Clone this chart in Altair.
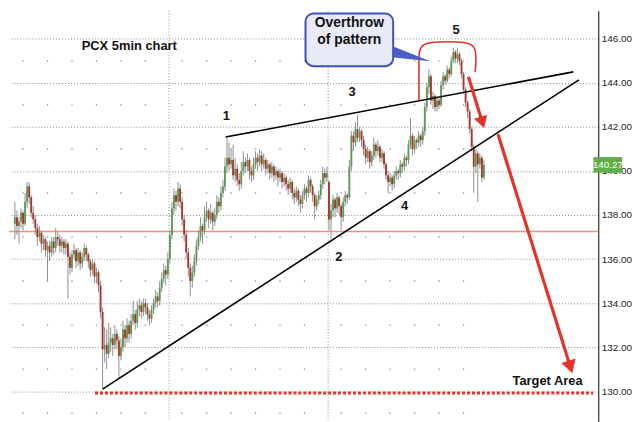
import altair as alt
import pandas as pd

# ---------------- candle data (5-minute bars) ----------------
opens = [
    137.6, 137.9, 137.5, 137.7, 138.1, 137.6, 138.6, 139.3, 138.8, 138.1,
    137.8, 137.4, 137.0, 137.2, 136.7, 136.9, 136.4, 136.6, 136.3, 136.8,
    136.5, 137.0, 136.9, 136.6, 136.8, 136.5, 136.7, 136.1, 135.6, 136.2,
    136.4, 135.9, 136.3, 135.8, 136.1, 136.5, 136.2, 135.9, 135.5, 135.8,
    135.2, 135.4, 134.8, 133.6, 131.9, 132.1, 131.7, 132.2, 132.4, 132.1,
    132.6, 132.3, 131.6, 132.0, 132.8, 132.4, 133.0, 132.6, 133.2, 133.5,
    133.1, 133.7, 133.9, 133.6, 134.0, 133.8, 133.5, 133.3, 133.7, 134.0,
    134.3, 134.1, 134.7, 135.1, 135.5, 135.3, 136.0, 137.1, 138.3, 138.9,
    138.6, 139.2, 138.6, 137.8, 137.1, 136.3, 135.6, 135.0, 135.4, 135.9,
    136.6, 137.0, 137.5, 137.3, 137.9, 138.2, 137.8, 138.1, 137.7, 138.0,
    138.6, 138.4, 139.0, 139.3, 140.2, 140.6, 140.3, 140.5, 139.8, 140.1,
    139.6, 139.4, 140.0, 140.4, 140.2, 140.5, 140.0, 139.8, 140.3, 140.6,
    140.4, 140.7, 140.3, 140.5, 140.1, 140.3, 139.9, 140.2, 139.8, 140.0,
    139.7, 139.9, 139.5, 139.7, 139.4, 139.2, 139.5, 139.0, 138.8, 139.1,
    138.7, 138.5, 138.9, 139.2, 139.0, 139.6, 139.3, 138.9, 138.4, 138.7,
    138.9, 139.4, 139.9, 139.7, 139.5, 137.8, 138.2, 138.7, 138.3, 138.8,
    138.4, 137.9, 138.6, 138.9, 138.8, 140.2, 141.6, 141.3, 141.9, 141.5,
    141.8, 141.4, 141.0, 140.6, 140.9, 140.4, 140.7, 141.2, 140.9, 141.1,
    140.6, 140.8, 140.3, 139.8, 139.5, 139.7, 139.4, 139.8, 140.0, 139.9,
    140.3, 140.2, 140.6, 140.5, 141.2, 141.6, 141.0, 141.4, 141.3, 141.6,
    141.4, 141.8, 142.9, 143.8, 144.3, 143.2, 143.4, 142.9, 143.2, 143.0,
    143.9, 144.3, 144.1, 144.6, 144.4, 145.0, 145.4, 145.1, 145.3, 145.0,
    144.4, 143.7, 143.1, 142.7, 141.9, 141.1, 140.2, 140.8, 140.3, 140.6,
    139.7,
]
highs = [
    138.6, 138.2, 137.9, 138.3, 138.2, 139.0, 139.5, 139.5, 138.9, 138.4,
    138.0, 137.6, 137.5, 137.3, 137.1, 137.0, 136.8, 136.8, 137.0, 137.0,
    137.4, 137.2, 137.1, 137.0, 136.9, 136.9, 136.8, 136.3, 136.4, 136.7,
    136.5, 136.5, 136.4, 136.3, 136.7, 136.6, 136.3, 136.0, 136.0, 135.9,
    135.6, 135.5, 135.0, 133.8, 132.9, 132.8, 133.1, 132.9, 132.6, 133.0,
    132.8, 132.5, 132.4, 133.2, 133.0, 133.3, 133.2, 133.5, 134.1, 133.7,
    134.1, 134.2, 134.1, 134.2, 134.2, 134.0, 133.7, 133.9, 134.2, 134.6,
    134.5, 135.0, 135.4, 135.8, 135.7, 136.3, 137.3, 138.6, 139.2, 139.1,
    139.5, 139.4, 138.8, 138.0, 137.3, 136.5, 135.8, 135.7, 136.2, 136.9,
    137.3, 137.9, 137.6, 138.4, 138.6, 138.3, 138.5, 138.2, 138.3, 138.9,
    138.8, 139.3, 139.6, 140.6, 141.5, 141.3, 141.0, 141.2, 140.6, 140.3,
    139.9, 140.4, 140.9, 140.6, 140.8, 140.6, 140.2, 140.6, 140.9, 140.8,
    141.0, 140.9, 140.8, 140.6, 140.5, 140.4, 140.4, 140.3, 140.2, 140.1,
    140.1, 140.0, 139.9, 139.8, 139.6, 139.7, 139.6, 139.2, 139.3, 139.2,
    138.9, 139.1, 139.4, 139.3, 139.8, 139.7, 139.4, 139.0, 138.9, 139.1,
    139.6, 140.2, 140.1, 140.2, 139.6, 138.5, 138.9, 138.8, 139.0, 138.9,
    138.5, 138.8, 139.1, 139.0, 140.5, 141.8, 141.8, 142.2, 142.55, 142.0,
    141.9, 141.6, 141.2, 141.1, 141.0, 140.9, 141.5, 141.3, 141.4, 141.2,
    141.0, 140.9, 140.4, 140.0, 139.9, 139.8, 140.0, 140.2, 140.1, 140.5,
    140.4, 140.8, 140.7, 141.4, 142.4, 141.7, 141.6, 141.5, 141.8, 141.7,
    142.0, 143.1, 144.0, 144.6, 144.4, 143.6, 143.5, 143.4, 143.3, 144.1,
    144.5, 144.4, 144.8, 144.7, 145.2, 145.6, 145.5, 145.6, 145.4, 145.1,
    144.5, 143.8, 143.2, 142.8, 142.0, 141.2, 141.0, 140.9, 140.8, 140.7,
    140.5,
]
lows = [
    136.9, 137.1, 136.7, 137.4, 137.3, 137.5, 138.3, 138.5, 137.9, 137.6,
    137.1, 136.6, 136.8, 136.3, 136.4, 136.1, 135.0, 135.9, 136.1, 136.2,
    136.3, 136.6, 136.3, 136.3, 136.2, 136.2, 134.2, 135.3, 135.4, 136.0,
    135.6, 135.7, 135.5, 135.6, 135.9, 135.9, 135.6, 135.2, 135.3, 134.9,
    134.9, 134.5, 133.3, 130.1, 131.3, 131.0, 131.5, 131.8, 131.6, 131.9,
    131.9, 130.6, 131.4, 131.8, 132.0, 132.2, 132.2, 132.4, 133.0, 132.8,
    132.9, 133.4, 133.3, 133.4, 133.5, 133.2, 133.0, 133.1, 133.5, 133.8,
    133.8, 133.9, 134.5, 134.9, 134.8, 135.1, 135.8, 136.9, 138.0, 138.2,
    138.4, 138.3, 137.5, 136.8, 136.0, 135.2, 134.3, 134.7, 135.2, 135.7,
    136.4, 136.8, 136.7, 137.1, 137.7, 137.4, 137.6, 137.3, 137.5, 137.8,
    138.1, 138.2, 138.8, 139.1, 139.9, 140.0, 140.1, 139.6, 139.5, 139.3,
    139.1, 139.2, 139.8, 139.9, 140.0, 139.6, 139.5, 139.6, 140.1, 140.0,
    140.2, 140.0, 140.1, 139.8, 139.9, 139.6, 139.7, 139.5, 139.6, 139.3,
    139.5, 139.2, 139.3, 139.1, 138.9, 139.0, 138.7, 138.5, 138.6, 138.4,
    138.1, 138.3, 138.7, 138.6, 138.8, 139.0, 138.6, 137.8, 138.2, 138.5,
    138.7, 139.2, 139.4, 139.5, 137.3, 136.9, 137.9, 137.9, 138.1, 138.0,
    137.3, 137.7, 138.4, 138.5, 138.7, 140.0, 140.9, 141.1, 141.3, 141.3,
    141.1, 140.7, 140.3, 140.4, 140.1, 140.2, 140.5, 140.6, 140.7, 140.4,
    140.4, 140.1, 139.6, 139.0, 139.3, 139.1, 139.2, 139.6, 139.6, 139.7,
    139.9, 140.0, 140.2, 140.3, 141.0, 140.7, 140.8, 141.0, 141.1, 141.1,
    141.2, 141.6, 142.7, 143.5, 143.0, 142.8, 142.7, 142.7, 142.8, 142.9,
    143.7, 143.9, 144.0, 144.2, 144.3, 144.9, 144.9, 144.9, 144.8, 144.2,
    143.5, 142.9, 142.4, 141.7, 140.9, 139.0, 139.9, 138.6, 140.1, 139.5,
    139.6,
]
closes = [
    137.9, 137.5, 137.7, 138.1, 137.6, 138.6, 139.3, 138.8, 138.1, 137.8,
    137.4, 137.0, 137.2, 136.7, 136.9, 136.4, 136.6, 136.3, 136.8, 136.5,
    137.0, 136.9, 136.6, 136.8, 136.5, 136.7, 136.1, 135.6, 136.2, 136.4,
    135.9, 136.3, 135.8, 136.1, 136.5, 136.2, 135.9, 135.5, 135.8, 135.2,
    135.4, 134.8, 133.6, 131.9, 132.1, 131.7, 132.2, 132.4, 132.1, 132.6,
    132.3, 131.6, 132.0, 132.8, 132.4, 133.0, 132.6, 133.2, 133.5, 133.1,
    133.7, 133.9, 133.6, 134.0, 133.8, 133.5, 133.3, 133.7, 134.0, 134.3,
    134.1, 134.7, 135.1, 135.5, 135.3, 136.0, 137.1, 138.3, 138.9, 138.6,
    139.2, 138.6, 137.8, 137.1, 136.3, 135.6, 135.0, 135.4, 135.9, 136.6,
    137.0, 137.5, 137.3, 137.9, 138.2, 137.8, 138.1, 137.7, 138.0, 138.6,
    138.4, 139.0, 139.3, 140.2, 140.6, 140.3, 140.5, 139.8, 140.1, 139.6,
    139.4, 140.0, 140.4, 140.2, 140.5, 140.0, 139.8, 140.3, 140.6, 140.4,
    140.7, 140.3, 140.5, 140.1, 140.3, 139.9, 140.2, 139.8, 140.0, 139.7,
    139.9, 139.5, 139.7, 139.4, 139.2, 139.5, 139.0, 138.8, 139.1, 138.7,
    138.5, 138.9, 139.2, 139.0, 139.6, 139.3, 138.9, 138.4, 138.7, 138.9,
    139.4, 139.9, 139.7, 139.9, 137.8, 138.2, 138.7, 138.3, 138.8, 138.4,
    137.9, 138.6, 138.9, 138.8, 140.2, 141.6, 141.3, 141.9, 141.5, 141.8,
    141.4, 141.0, 140.6, 140.9, 140.4, 140.7, 141.2, 140.9, 141.1, 140.6,
    140.8, 140.3, 139.8, 139.5, 139.7, 139.4, 139.8, 140.0, 139.9, 140.3,
    140.2, 140.6, 140.5, 141.2, 141.6, 141.0, 141.4, 141.3, 141.6, 141.4,
    141.8, 142.9, 143.8, 144.3, 143.2, 143.4, 142.9, 143.2, 143.0, 143.9,
    144.3, 144.1, 144.6, 144.4, 145.0, 145.4, 145.1, 145.3, 145.0, 144.4,
    143.7, 143.1, 142.7, 141.9, 141.1, 140.2, 140.8, 140.3, 140.6, 139.7,
    140.27,
]
assert len(opens) == len(highs) == len(lows) == len(closes)
bars = list(range(len(closes)))

# ---------------- axis / grid values ----------------
price_ticks = [130, 132, 134, 136, 138, 140, 142, 144, 146]
day_breaks = [75.6, 153.6]
hour_marks = [4, 16, 28, 40, 52, 64, 82, 94, 106, 118, 130, 142,
              160, 172, 184, 196, 208, 220]
odd_prices = [129, 131, 133, 135, 137, 139, 141, 143, 145]
support_level = 137.25
target_level = 129.92
target_from = 39.3
last_price = 140.27

# ---------------- annotations (in bar / price units) ----------------
upper_trend_bar = [103.3, 273.8]
upper_trend_price = [141.54, 144.50]
lower_trend_bar = [43.0, 276.6]
lower_trend_price = [130.09, 144.14]

loop_bar = [198.13, 198.13, 198.13, 198.13, 212.15, 226.17, 226.17, 225.7]
loop_price = [143.22, 144.10, 145.00, 145.87, 145.87, 145.87, 145.00, 144.50]

short_arrow_bar = [222.4, 229.2]
short_arrow_price = [144.28, 142.21]
long_arrow_bar = [236.9, 272.4]
long_arrow_price = [141.67, 131.10]

callout_bar = [142.5, 185.5]
callout_price = [144.76, 147.15]
pointer_bar = [184.6, 203.7]
pointer_top = [145.69, 144.98]
pointer_bottom = [145.16, 144.98]
callout_lines = ["Overthrow", "of pattern"]
callout_line_price = [146.71, 145.96]
callout_center_bar = 164.0

label_texts = ["PCX 5min chart", "1", "2", "3", "4", "5", "Target Area"]
label_bar = [56.1, 103.7, 158.9, 165.4, 191.1, 216.4, 261.2]
label_price = [145.69, 142.51, 136.10, 143.57, 138.40, 146.40, 130.44]

last_box_bar = [283.7, 297.8]
last_box_price = [139.92, 140.63]

# ---------------- scales ----------------
xs = alt.Scale(domain=[-0.467, 283.64], nice=False, zero=False)
ys = alt.Scale(domain=[128.63, 147.28], nice=False, zero=False)
yaxis = alt.Axis(orient="right", values=price_ticks, format=".2f", grid=True,
                 gridDash=[1, 2], gridColor="#8a8a8a", gridOpacity=1, gridWidth=1,
                 domain=True, domainColor="#000000", domainWidth=1, ticks=False,
                 labelPadding=3, labelFont="Liberation Sans", labelFontSize=10,
                 labelColor="#222222", title=None)


def X(f):
    return alt.X(f, type="quantitative", scale=xs, axis=None)


def Y(f):
    return alt.Y(f, type="quantitative", scale=ys, axis=yaxis)


RED = "#e4332b"

candles = pd.DataFrame({"bar": bars, "open": opens, "high": highs,
                        "low": lows, "close": closes})
candles["move"] = ["up" if c >= o else "down" for o, c in zip(opens, closes)]

days = alt.Chart(pd.DataFrame({"bar": day_breaks})).mark_rule(
    color="#8a8a8a", strokeDash=[1, 2], strokeWidth=1).encode(x=X("bar"))

dots_df = pd.DataFrame([(h, p) for h in hour_marks for p in odd_prices],
                       columns=["bar", "price"])
dots = alt.Chart(dots_df).mark_square(size=2, color="#9a9a9a", opacity=1).encode(
    x=X("bar"), y=Y("price"))

support = alt.Chart(pd.DataFrame({"price": [support_level]})).mark_rule(
    color="#f2907c", strokeWidth=1.5).encode(y=Y("price"))

wicks = alt.Chart(candles).mark_rule(color="#8e8e8e", strokeWidth=1).encode(
    x=X("bar"), y=Y("low"), y2=alt.Y2("high"))

bodies = alt.Chart(candles).mark_bar(size=1.9).encode(
    x=X("bar"), y=Y("open"), y2=alt.Y2("close"),
    color=alt.Color("move:N", scale=alt.Scale(domain=["up", "down"],
                                              range=["#5f9a55", "#a6372d"]),
                    legend=None))

trend_df = pd.DataFrame({
    "bar": upper_trend_bar + lower_trend_bar,
    "price": upper_trend_price + lower_trend_price,
    "line": ["upper", "upper", "lower", "lower"],
})
trends = alt.Chart(trend_df).mark_line(color="#000000", strokeWidth=1.6).encode(
    x=X("bar"), y=Y("price"), detail="line:N")

target_df = pd.DataFrame({"bar": [target_from], "bar2": [xs.domain[1]],
                          "price": [target_level]})
target = alt.Chart(target_df).mark_rule(color=RED, strokeWidth=3,
                                        strokeDash=[3, 2]).encode(
    x=X("bar"), x2=alt.X2("bar2"), y=Y("price"))

loop_df = pd.DataFrame({"bar": loop_bar, "price": loop_price,
                        "k": list(range(len(loop_bar)))})
loop = alt.Chart(loop_df).mark_line(color=RED, strokeWidth=1.6,
                                    interpolate="basis").encode(
    x=X("bar"), y=Y("price"), order="k:Q")

arrows_df = pd.DataFrame({
    "bar": short_arrow_bar + long_arrow_bar,
    "price": short_arrow_price + long_arrow_price,
    "a": ["s", "s", "l", "l"],
})
arrows = alt.Chart(arrows_df).mark_line(color=RED, strokeWidth=3.2).encode(
    x=X("bar"), y=Y("price"), detail="a:N")

head_short = alt.Chart(pd.DataFrame({"bar": [short_arrow_bar[1]],
                                     "price": [short_arrow_price[1]]})).mark_point(
    shape="triangle-down", filled=True, size=190, angle=343, color=RED,
    opacity=1, strokeWidth=0).encode(x=X("bar"), y=Y("price"))
head_long = alt.Chart(pd.DataFrame({"bar": [long_arrow_bar[1]],
                                    "price": [long_arrow_price[1]]})).mark_point(
    shape="triangle-down", filled=True, size=230, angle=342, color=RED,
    opacity=1, strokeWidth=0).encode(x=X("bar"), y=Y("price"))

callout_df = pd.DataFrame({"b1": [callout_bar[0]], "b2": [callout_bar[1]],
                           "p1": [callout_price[0]], "p2": [callout_price[1]]})
callout = alt.Chart(callout_df).mark_rect(
    fill="#e8eaf8", stroke="#3f51b5", strokeWidth=2, cornerRadius=8).encode(
    x=X("b1"), x2=alt.X2("b2"), y=Y("p1"), y2=alt.Y2("p2"))

pointer_df = pd.DataFrame({"bar": pointer_bar, "top": pointer_top,
                           "bottom": pointer_bottom})
pointer = alt.Chart(pointer_df).mark_area(color="#4b5cc4", opacity=1).encode(
    x=X("bar"), y=Y("top"), y2=alt.Y2("bottom"))

callout_text_df = pd.DataFrame({"bar": [callout_center_bar] * 2,
                                "price": callout_line_price,
                                "t": callout_lines})
callout_text = alt.Chart(callout_text_df).mark_text(
    font="Liberation Sans", fontSize=14, fontWeight="bold", color="#111111",
    align="center", baseline="middle").encode(x=X("bar"), y=Y("price"), text="t:N")

labels_df = pd.DataFrame({"bar": label_bar, "price": label_price, "t": label_texts})
labels = alt.Chart(labels_df).mark_text(
    font="Liberation Sans", fontSize=13, fontWeight="bold", color="#111111",
    align="center", baseline="middle").encode(x=X("bar"), y=Y("price"), text="t:N")

last_df = pd.DataFrame({"b1": [last_box_bar[0]], "b2": [last_box_bar[1]],
                        "p1": [last_box_price[0]], "p2": [last_box_price[1]],
                        "bm": [(last_box_bar[0] + last_box_bar[1]) / 2],
                        "price": [last_price], "t": [f"{last_price:.2f}"]})
last_box = alt.Chart(last_df).mark_rect(fill="#5fae48").encode(
    x=X("b1"), x2=alt.X2("b2"), y=Y("p1"), y2=alt.Y2("p2"))
last_text = alt.Chart(last_df).mark_text(
    font="Liberation Sans", fontSize=10, color="#ffffff", align="center",
    baseline="middle").encode(x=X("bm"), y=Y("price"), text="t:N")

chart = alt.layer(
    days, dots, support, wicks, bodies, trends, target, loop, arrows,
    head_short, head_long, pointer, callout, callout_text, labels,
    last_box, last_text,
).properties(width=594, height=414, padding=0, background="#ffffff"
).configure_view(strokeWidth=0)

chart.save("out.html", embed_options={"renderer": "svg", "actions": False})
